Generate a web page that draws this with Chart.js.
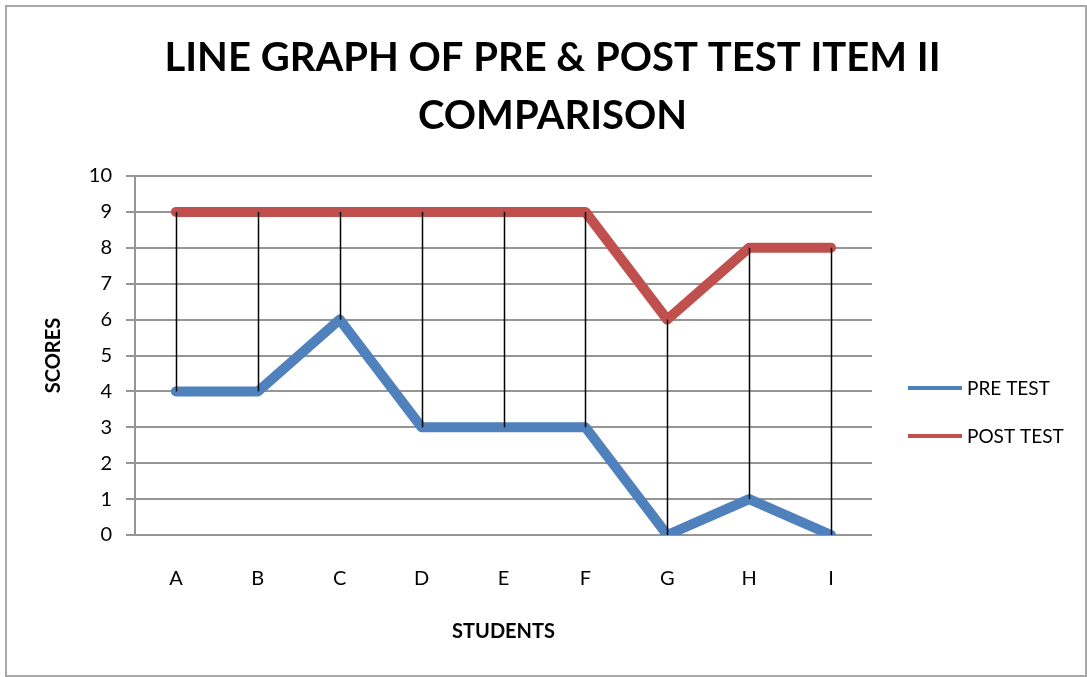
<!DOCTYPE html>
<html><head><meta charset="utf-8">
<script src="https://cdn.jsdelivr.net/npm/chart.js@4"></script>
<style>
html,body{margin:0;padding:0;background:#fff;}
#wrap{position:relative;width:1087px;height:677px;}
#frame{position:absolute;left:5px;top:5px;width:1078px;height:668px;border:2px solid #a8a8a8;pointer-events:none;}
</style></head>
<body><div id="wrap"><canvas id="c" width="1087" height="677"></canvas><div id="frame"></div></div>
<script>
const categories = ['A','B','C','D','E','F','G','H','I'];
const preTest = [4,4,6,3,3,3,0,1,0];
const postTest = [9,9,9,9,9,9,6,8,8];
const yTicks = {min:0, max:10, step:1};
const titleLines = ['LINE GRAPH OF PRE & POST TEST ITEM II','COMPARISON'];
const seriesNames = ['PRE TEST','POST TEST'];
const seriesColors = ['#4F81BD','#C0504D'];

const FONT = "Lato, 'Open Sans', sans-serif";

const dropLines = {
  id:'dropLines',
  afterDatasetsDraw(chart){
    const ctx = chart.ctx, x = chart.scales.x, y = chart.scales.y;
    const a = chart.data.datasets[0].data, b = chart.data.datasets[1].data;
    ctx.save();
    ctx.strokeStyle = '#000'; ctx.lineWidth = 1.5;
    for(let i=0;i<a.length;i++){
      const px = Math.round(x.getPixelForValue(i))+0.5;
      ctx.beginPath();
      ctx.moveTo(px, y.getPixelForValue(b[i]));
      ctx.lineTo(px, y.getPixelForValue(a[i]));
      ctx.stroke();
    }
    ctx.restore();
  }
};

const sideLegend = {
  id:'sideLegend',
  afterDraw(chart){
    const ctx = chart.ctx;
    const area = chart.chartArea;
    const x0 = area.right + 36, y0 = 388, gap = 48;
    ctx.save();
    ctx.font = "19px " + FONT;
    ctx.textBaseline = 'middle';
    ctx.textAlign = 'left';
    chart.data.datasets.forEach((ds,i)=>{
      const yy = y0 + i*gap;
      ctx.fillStyle = ds.borderColor;
      ctx.fillRect(x0, yy-2, 54, 4);
      ctx.fillStyle = '#000';
      ctx.fillText(ds.label, x0 + 59, yy+1);
    });
    ctx.restore();
  }
};

new Chart(document.getElementById('c'), {
  type:'line',
  data:{
    labels:categories,
    datasets:[
      {label:seriesNames[0], data:preTest, borderColor:seriesColors[0], backgroundColor:seriesColors[0], borderWidth:10, pointRadius:0, borderCapStyle:'round', borderJoinStyle:'round', tension:0},
      {label:seriesNames[1], data:postTest, borderColor:seriesColors[1], backgroundColor:seriesColors[1], borderWidth:10, pointRadius:0, borderCapStyle:'round', borderJoinStyle:'round', tension:0}
    ]
  },
  options:{
    responsive:false, animation:false,
    layout:{padding:{left:18,right:0,top:0,bottom:0}},
    plugins:{
      title:{display:true, text:titleLines, color:'#000', font:{family:FONT, size:40, weight:'bold', lineHeight:1.45}, padding:{top:29,bottom:31}},
      legend:{display:false},
      tooltip:{enabled:false}
    },
    scales:{
      x:{offset:true, grid:{display:false}, border:{display:false},
         afterFit(s){ s.height = 142; },
         ticks:{color:'#000', font:{family:FONT,size:20}, padding:24},
         title:{display:true, text:'STUDENTS', color:'#000', font:{family:FONT,size:20,weight:'bold'}, padding:{top:0,bottom:33}}},
      y:{min:yTicks.min, max:yTicks.max,
         afterFit(s){ s.width = 117; },
         ticks:{stepSize:yTicks.step, color:'#000', font:{family:FONT,size:20}, padding:14},
         grid:{color:'#959595', lineWidth:2, tickLength:9},
         border:{display:true, color:'#959595', width:2},
         title:{display:true, text:'SCORES', color:'#000', font:{family:FONT,size:20,weight:'bold'}, padding:{top:24,bottom:0}}},
      legendSpace:{type:'linear', position:'right', display:true,
         afterFit(s){ s.width = 215; },
         grid:{display:false}, border:{display:false}, ticks:{display:false}}
    }
  },
  plugins:[dropLines, sideLegend]
});
</script></body></html>
